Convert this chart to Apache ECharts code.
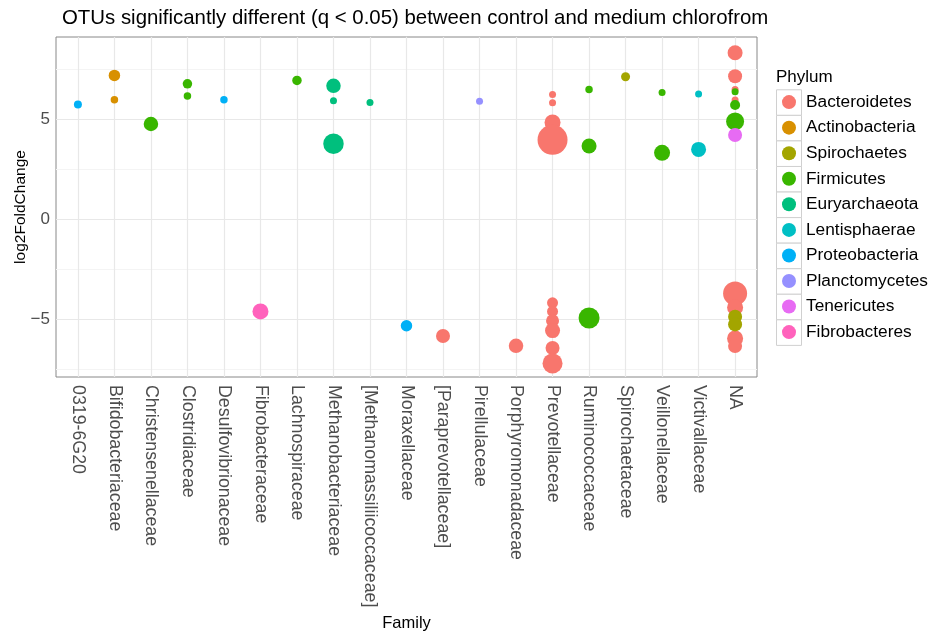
<!DOCTYPE html>
<html>
<head>
<meta charset="utf-8">
<script src="https://cdn.jsdelivr.net/npm/echarts@6/dist/echarts.min.js"></script>
<style>html,body{margin:0;padding:0;background:#fff}#c{width:933px;height:634px}</style>
</head>
<body>
<div id="c"></div>
<script>
// ---- data ----
const families = ["0319-6G20","Bifidobacteriaceae","Christensenellaceae","Clostridiaceae","Desulfovibrionaceae","Fibrobacteraceae","Lachnospiraceae","Methanobacteriaceae","[Methanomassiliicoccaceae]","Moraxellaceae","[Paraprevotellaceae]","Pirellulaceae","Porphyromonadaceae","Prevotellaceae","Ruminococcaceae","Spirochaetaceae","Veillonellaceae","Victivallaceae","NA"];
const phyla = ["Bacteroidetes","Actinobacteria","Spirochaetes","Firmicutes","Euryarchaeota","Lentisphaerae","Proteobacteria","Planctomycetes","Tenericutes","Fibrobacteres"];
const yTicks = [-5, 0, 5];
const yMinorTicks = [-7.5, -2.5, 2.5, 7.5];
// one entry per OTU
const otuFamily = ["0319-6G20","Bifidobacteriaceae","Bifidobacteriaceae","Christensenellaceae","Clostridiaceae","Clostridiaceae","Desulfovibrionaceae","Fibrobacteraceae","Lachnospiraceae","Methanobacteriaceae","Methanobacteriaceae","Methanobacteriaceae","[Methanomassiliicoccaceae]","Moraxellaceae","[Paraprevotellaceae]","Pirellulaceae","Porphyromonadaceae",
 "Prevotellaceae","Prevotellaceae","Prevotellaceae","Prevotellaceae","Prevotellaceae","Prevotellaceae","Prevotellaceae","Prevotellaceae","Prevotellaceae","Prevotellaceae",
 "Ruminococcaceae","Ruminococcaceae","Ruminococcaceae","Spirochaetaceae","Veillonellaceae","Veillonellaceae","Victivallaceae","Victivallaceae",
 "NA","NA","NA","NA","NA","NA","NA","NA","NA","NA","NA","NA","NA","NA"];
const otuLog2FC = [5.75,7.2,5.98,4.77,6.78,6.17,5.98,-4.6,6.95,6.68,5.93,3.78,5.85,-5.32,-5.83,5.91,-6.32,
 6.25,5.83,4.85,3.98,-4.17,-4.6,-5.07,-5.56,-6.43,-7.2,
 6.5,3.67,-4.93,7.13,6.35,3.33,6.27,3.5,
 8.33,7.16,6.5,6.38,5.97,5.72,4.9,4.22,-3.7,-4.4,-4.87,-5.25,-5.95,-6.33];
const otuPhylum = ["Proteobacteria","Actinobacteria","Actinobacteria","Firmicutes","Firmicutes","Firmicutes","Proteobacteria","Fibrobacteres","Firmicutes","Euryarchaeota","Euryarchaeota","Euryarchaeota","Euryarchaeota","Proteobacteria","Bacteroidetes","Planctomycetes","Bacteroidetes",
 "Bacteroidetes","Bacteroidetes","Bacteroidetes","Bacteroidetes","Bacteroidetes","Bacteroidetes","Bacteroidetes","Bacteroidetes","Bacteroidetes","Bacteroidetes",
 "Firmicutes","Firmicutes","Firmicutes","Spirochaetes","Firmicutes","Firmicutes","Lentisphaerae","Lentisphaerae",
 "Bacteroidetes","Bacteroidetes","Bacteroidetes","Firmicutes","Bacteroidetes","Firmicutes","Firmicutes","Tenericutes","Bacteroidetes","Bacteroidetes","Spirochaetes","Spirochaetes","Bacteroidetes","Bacteroidetes"];
// relative abundance (drives point size)
const otuAbundance = [64,132,56,210,90,56,56,256,90,210,49,420,49,132,196,49,210,
 49,49,256,900,121,121,169,225,196,400,
 56,225,441,81,49,256,49,225,
 225,196,49,49,49,100,324,196,576,256,196,196,256,196];

// ---- styling ----
const colors = {"Bacteroidetes":"#F8766D","Actinobacteria":"#D89000","Spirochaetes":"#A3A500","Firmicutes":"#39B600","Euryarchaeota":"#00BF7D","Lentisphaerae":"#00BFC4","Proteobacteria":"#00B0F6","Planctomycetes":"#9590FF","Tenericutes":"#E76BF3","Fibrobacteres":"#FF62BC"};
const FONT = "Liberation Sans, Arial, sans-serif";
const sizeOf = v => Math.sqrt(v);

const gridL = 56, gridT = 37, gridW = 701, gridH = 340;

const series = [];
// background gridlines
series.push({
  type: 'scatter', data: [], silent: true, z: 0,
  markLine: {silent: true, z: 1, symbol: 'none', label: {show: false}, animation: false,
    lineStyle: {color: '#f4f4f4', width: 1, type: 'solid'},
    data: yMinorTicks.map(v => ({yAxis: v}))}
});
series.push({
  type: 'scatter', data: [], silent: true, z: 0,
  markLine: {silent: true, z: 1, symbol: 'none', label: {show: false}, animation: false,
    lineStyle: {color: '#e8e8e8', width: 1.2, type: 'solid'},
    data: yTicks.map(v => ({yAxis: v})).concat(families.map((f, i) => ({xAxis: i})))}
});
phyla.forEach(p => {
  const d = [];
  otuPhylum.forEach((ph, i) => {
    if (ph === p) d.push([families.indexOf(otuFamily[i]), otuLog2FC[i], otuAbundance[i]]);
  });
  series.push({
    name: p, type: 'scatter', z: 10,
    data: d,
    symbol: 'circle',
    symbolSize: v => sizeOf(v[2]),
    itemStyle: {color: colors[p], opacity: 1}
  });
});

const legendTop = 89.3, keyH = 25.56;
const graphics = phyla.map((p, i) => ({
  type: 'rect', left: 776, top: legendTop + i * keyH, z: -1,
  shape: {width: 25, height: keyH},
  style: {fill: '#ffffff', stroke: '#d0d0d0', lineWidth: 1}
}));

const chart = echarts.init(document.getElementById('c'), null, {renderer: 'canvas'});
chart.setOption({
  animation: false,
  backgroundColor: '#ffffff',
  textStyle: {fontFamily: FONT},
  title: [
    {text: 'OTUs significantly different (q < 0.05) between control and medium chlorofrom', left: 62, top: 8, padding: 0,
     textStyle: {fontSize: 20.4, fontWeight: 'normal', color: '#000', fontFamily: FONT}},
    {text: 'Phylum', left: 776, top: 69, padding: 0, textStyle: {fontSize: 17, fontWeight: 'normal', color: '#000', fontFamily: FONT}}
  ],
  grid: {left: gridL, top: gridT, width: gridW, height: gridH, show: true, borderColor: '#888', borderWidth: 1, backgroundColor: '#fff', containLabel: false, outerBoundsMode: 'none'},
  legend: {
    orient: 'vertical', left: 782, top: legendTop, itemWidth: 14, itemHeight: 14, itemGap: 0, padding: 0,
    icon: 'circle', data: phyla,
    textStyle: {fontSize: 17.3, color: '#000', fontFamily: FONT, lineHeight: keyH, padding: [0, 0, 0, 5]},
    selectedMode: false
  },
  graphic: graphics,
  xAxis: {
    type: 'value', min: -0.6, max: 18.6,
    name: 'Family', nameLocation: 'middle', nameGap: 238, nameMoveOverlap: false,
    nameTextStyle: {fontSize: 16.5, color: '#000', fontFamily: FONT},
    axisLine: {show: false},
    splitLine: {show: false},
    axisTick: {show: true, length: 4, lineStyle: {color: '#333'}, customValues: families.map((f, i) => i)},
    axisLabel: {rotate: -90, fontSize: 17.8, color: '#4d4d4d', margin: 8, fontFamily: FONT,
      customValues: families.map((f, i) => i), formatter: v => families[Math.round(v)]}
  },
  yAxis: {
    type: 'value', min: -7.88, max: 9.12,
    name: 'log2FoldChange', nameLocation: 'middle', nameGap: 27, nameRotate: 90, nameMoveOverlap: false,
    nameTextStyle: {fontSize: 15.5, color: '#000', fontFamily: FONT},
    axisLine: {show: false},
    splitLine: {show: false},
    axisTick: {show: true, length: 4, lineStyle: {color: '#333'}, customValues: yTicks},
    axisLabel: {fontSize: 17, color: '#4d4d4d', margin: 6, fontFamily: FONT, customValues: yTicks,
      formatter: v => (v < 0 ? '\u2212' + Math.abs(v) : String(v))}
  },
  series: series
});
</script>
</body>
</html>
